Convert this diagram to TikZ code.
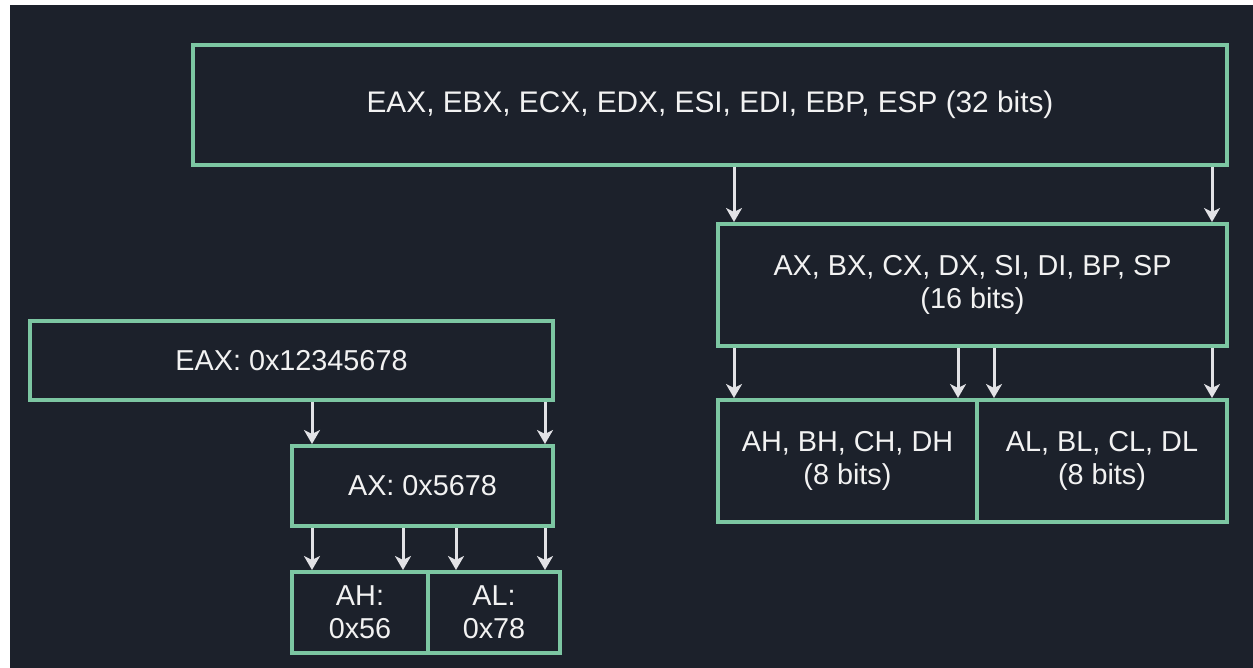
\documentclass[tikz,border=0pt]{standalone}
\usepackage{fontspec}
\setmainfont{Liberation Sans}
\usetikzlibrary{arrows.meta}
\definecolor{bgdark}{HTML}{1C212B}
\definecolor{boxgreen}{HTML}{7CC6A2}
\definecolor{arrowgray}{HTML}{E2E2E6}
\definecolor{regtext}{HTML}{F2F2F2}
\tikzset{
  regbox/.style={draw=boxgreen, line width=2pt, fill=bgdark, text=regtext, inner sep=0pt,
    align=center, font=\fontsize{14.4}{16.5}\selectfont},
  regarrow/.style={draw=arrowgray, line width=1.5pt, -{Stealth[length=7pt,width=8pt,inset=2pt]}}
}
\begin{document}
\begin{tikzpicture}[x=0.5pt,y=-0.5pt]
\fill[white] (0,0) rectangle (1253,668);
\fill[bgdark] (10,5) rectangle (1253,668);
\node[regbox, minimum width=517pt, minimum height=60pt, font=\fontsize{14.9}{16.5}\selectfont] (r32) at (710,105) {EAX, EBX, ECX, EDX, ESI, EDI, EBP, ESP (32 bits)};
\node[regbox, minimum width=254.5pt, minimum height=61pt] (r16) at (972.5,285) {AX, BX, CX, DX, SI, DI, BP, SP\\(16 bits)};
\node[regbox, minimum width=129.5pt, minimum height=61pt] (r8h) at (847.5,461) {AH, BH, CH, DH\\(8 bits)};
\node[regbox, minimum width=125pt, minimum height=61pt] (r8l) at (1102,461) {AL, BL, CL, DL\\(8 bits)};
\node[regbox, minimum width=261.5pt, minimum height=39.5pt] (eax) at (291.5,360.5) {EAX: 0x12345678};
\node[regbox, minimum width=130.5pt, minimum height=40pt] (ax) at (422.5,486) {AX: 0x5678};
\node[regbox, minimum width=68pt, minimum height=40.5pt] (ah) at (360,612.5) {AH:\\0x56};
\node[regbox, minimum width=66pt, minimum height=40.5pt] (al) at (494,612.5) {AL:\\0x78};
\draw[regarrow] ([xshift=9pt]r16.north west |- r32.south) -- ([xshift=9pt]r16.north west);
\draw[regarrow] ([xshift=-8.5pt]r16.north east |- r32.south) -- ([xshift=-8.5pt]r16.north east);
\draw[regarrow] ([xshift=9pt]r8h.north west |- r16.south) -- ([xshift=9pt]r8h.north west);
\draw[regarrow] ([xshift=-10.5pt]r8h.north east |- r16.south) -- ([xshift=-10.5pt]r8h.north east);
\draw[regarrow] ([xshift=9.5pt]r8l.north west |- r16.south) -- ([xshift=9.5pt]r8l.north west);
\draw[regarrow] ([xshift=-8.5pt]r8l.north east |- r16.south) -- ([xshift=-8.5pt]r8l.north east);
\draw[regarrow] ([xshift=11pt]ax.north west |- eax.south) -- ([xshift=11pt]ax.north west);
\draw[regarrow] ([xshift=-5pt]ax.north east |- eax.south) -- ([xshift=-5pt]ax.north east);
\draw[regarrow] ([xshift=11pt]ah.north west |- ax.south) -- ([xshift=11pt]ah.north west);
\draw[regarrow] ([xshift=-13.5pt]ah.north east |- ax.south) -- ([xshift=-13.5pt]ah.north east);
\draw[regarrow] ([xshift=15pt]al.north west |- ax.south) -- ([xshift=15pt]al.north west);
\draw[regarrow] ([xshift=-8.5pt]al.north east |- ax.south) -- ([xshift=-8.5pt]al.north east);
\end{tikzpicture}
\end{document}
